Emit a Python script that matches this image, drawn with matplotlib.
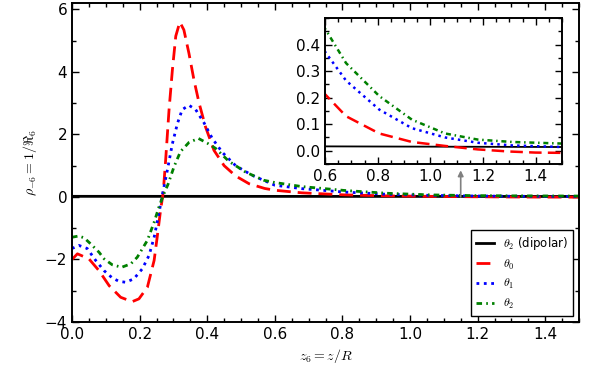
import matplotlib
matplotlib.use('Agg')
import matplotlib.pyplot as plt
from matplotlib.ticker import MultipleLocator, FixedLocator

plt.rcParams['mathtext.fontset'] = 'cm'
plt.rcParams['font.family'] = ['DejaVu Sans']

# ---- data ----
z_dip = [0.0, 1.5]
rho_dip = [0.018, 0.014]

z_t0 = [0.0, 0.016, 0.05, 0.08, 0.11, 0.144, 0.178, 0.198, 0.223, 0.243, 0.252,
        0.262, 0.27, 0.277, 0.287, 0.297, 0.307, 0.319, 0.331, 0.346, 0.361,
        0.376, 0.395, 0.42, 0.45, 0.484, 0.524, 0.57, 0.6, 0.68, 0.806, 0.93,
        1.056, 1.18, 1.3, 1.4, 1.5]
rho_t0 = [-2.0, -1.82, -1.98, -2.36, -2.84, -3.21, -3.35, -3.26, -2.89, -2.03, -1.29,
          -0.43, 0.15, 1.17, 2.77, 4.06, 5.14, 5.59, 5.34, 4.59, 3.73,
          3.0, 2.24, 1.49, 1.0, 0.67, 0.42, 0.27, 0.213, 0.13, 0.065, 0.033,
          0.018, 0.005, -0.003, -0.007, -0.008]

z_t1 = [0.0, 0.02, 0.045, 0.07, 0.095, 0.119, 0.139, 0.159, 0.183, 0.208, 0.228,
        0.243, 0.255, 0.267, 0.282, 0.297, 0.312, 0.326, 0.346, 0.366, 0.391,
        0.415, 0.445, 0.484, 0.533, 0.6, 0.68, 0.806, 0.93, 1.056, 1.18, 1.31, 1.5]
rho_t1 = [-1.65, -1.55, -1.65, -2.03, -2.36, -2.59, -2.7, -2.73, -2.62, -2.3, -1.87,
          -1.29, -0.65, 0.05, 0.85, 1.7, 2.35, 2.79, 2.93, 2.79, 2.36,
          1.87, 1.42, 1.0, 0.69, 0.373, 0.264, 0.155, 0.085, 0.05, 0.03, 0.02, 0.014]

z_t2 = [0.0, 0.02, 0.036, 0.055, 0.08, 0.095, 0.119, 0.147, 0.174, 0.193, 0.223,
        0.243, 0.257, 0.272, 0.284, 0.302, 0.321, 0.346, 0.374, 0.4, 0.425,
        0.464, 0.514, 0.568, 0.6, 0.68, 0.806, 0.93, 1.056, 1.18, 1.31, 1.5]
rho_t2 = [-1.29, -1.25, -1.31, -1.5, -1.77, -1.98, -2.17, -2.25, -2.14, -1.93, -1.39,
          -0.81, -0.33, 0.1, 0.4, 0.97, 1.45, 1.74, 1.87, 1.72, 1.55,
          1.14, 0.79, 0.53, 0.46, 0.33, 0.206, 0.117, 0.065, 0.042, 0.033, 0.027]

labels = [r'$\theta_2$ (dipolar)', r'$\theta_0$', r'$\theta_1$', r'$\theta_2$']
inset_yticks = [0.0, 0.1, 0.2, 0.3, 0.4]

# ---- figure ----
W, H = 591, 365
fig = plt.figure(figsize=(W / 100, H / 100), dpi=100)
fig.patch.set_facecolor('white')

ax = fig.add_axes([72 / W, (H - 322) / H, (579 - 72) / W, (322 - 3.3) / H])

ls0 = (0, (5, 2.5))
ls1 = (0, (1, 1.65))
ls2 = (0, (2.0, 1.5, 0.6, 1.5))

ax.plot(z_dip, rho_dip, color='k', lw=2.0, label=labels[0])
ax.plot(z_t0, rho_t0, color='r', lw=2.0, linestyle=ls0, label=labels[1])
ax.plot(z_t1, rho_t1, color='b', lw=2.0, linestyle=ls1, label=labels[2])
ax.plot(z_t2, rho_t2, color='g', lw=2.0, linestyle=ls2, label=labels[3])

ax.set_xlim(0, 1.5)
ax.set_ylim(-4, 6.19)
ax.xaxis.set_major_locator(MultipleLocator(0.2))
ax.xaxis.set_minor_locator(MultipleLocator(0.05))
ax.yaxis.set_major_locator(MultipleLocator(2))
ax.yaxis.set_minor_locator(MultipleLocator(1))
ax.tick_params(which='both', direction='in', top=True, right=True, labelsize=11)
ax.tick_params(which='major', length=5, width=1)
ax.tick_params(which='minor', length=3, width=1)
for s in ax.spines.values():
    s.set_linewidth(1.4)
ax.set_xlabel(r'$z_6=z/R$', fontsize=10)
ax.set_ylabel(r'$\rho_{-6}=1/\Re_6$', fontsize=10)

leg = ax.legend(loc='lower right', fontsize=8.5, handlelength=1.5, fancybox=False,
                framealpha=1, edgecolor='k', borderaxespad=0.5)
leg.get_frame().set_linewidth(1.0)

ax.annotate('', xy=(1.15, 0.85), xytext=(1.15, 0.0),
            arrowprops=dict(arrowstyle='-|>', color='gray', lw=1.2, mutation_scale=8,
                            shrinkA=0, shrinkB=0))

# ---- inset ----
axi = fig.add_axes([325 / W, (H - 164) / H, (562 - 325) / W, (164 - 18) / H])
axi.plot(z_dip, rho_dip, color='k', lw=1.3)
axi.plot(z_t0, rho_t0, color='r', lw=1.8, linestyle=ls0)
axi.plot(z_t1, rho_t1, color='b', lw=1.8, linestyle=ls1)
axi.plot(z_t2, rho_t2, color='g', lw=1.8, linestyle=ls2)
axi.set_xlim(0.6, 1.5)
axi.set_ylim(-0.05, 0.5)
axi.xaxis.set_major_locator(MultipleLocator(0.2))
axi.xaxis.set_minor_locator(MultipleLocator(0.05))
axi.yaxis.set_major_locator(FixedLocator(inset_yticks))
axi.yaxis.set_minor_locator(MultipleLocator(0.05))
axi.tick_params(which='both', direction='in', top=True, right=True, labelsize=11)
axi.tick_params(which='major', length=5, width=1)
axi.tick_params(which='minor', length=3, width=1)
for s in axi.spines.values():
    s.set_linewidth(1.4)

fig.savefig('out.png', dpi=100)
